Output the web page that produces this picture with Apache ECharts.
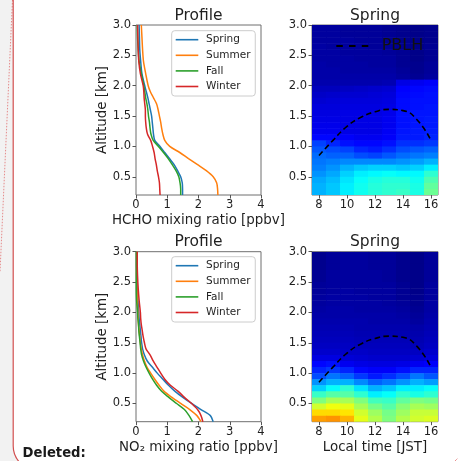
<!DOCTYPE html>
<html><head><meta charset="utf-8">
<script src="https://cdn.jsdelivr.net/npm/echarts@6/dist/echarts.min.js"></script>
<style>html,body{margin:0;padding:0;background:#fff}#c{width:458px;height:461px}</style>
</head><body><div id="c"></div><script>
// ---------- data ----------
const seasons = ['Spring', 'Summer', 'Fall', 'Winter'];
const altLevels = [0.2,0.3,0.4,0.5,0.6,0.7,0.8,0.9,1.0,1.1,1.2,1.3,1.4,1.5,1.6,1.7,1.8,1.9,2.0,2.2,2.4,2.6,2.8,3.0];
const hchoSpring = [1.49,1.49,1.48,1.43,1.33,1.22,1.07,0.92,0.77,0.60,0.56,0.54,0.52,0.50,0.46,0.42,0.38,0.33,0.28,0.19,0.15,0.12,0.11,0.10];
const hchoSummer = [2.62,2.61,2.58,2.47,2.25,1.97,1.68,1.40,1.08,0.92,0.86,0.82,0.79,0.75,0.71,0.66,0.56,0.46,0.39,0.31,0.24,0.21,0.19,0.17];
const hchoFall   = [1.43,1.43,1.41,1.37,1.28,1.16,1.03,0.88,0.72,0.55,0.48,0.45,0.43,0.40,0.38,0.35,0.31,0.28,0.25,0.17,0.10,0.07,0.05,0.04];
const hchoWinter = [0.77,0.76,0.75,0.72,0.68,0.65,0.61,0.58,0.53,0.47,0.37,0.33,0.31,0.30,0.30,0.28,0.26,0.25,0.23,0.14,0.09,0.07,0.06,0.05];
const no2Spring  = [2.47,2.38,2.08,1.78,1.50,1.25,1.04,0.86,0.68,0.52,0.36,0.27,0.21,0.18,0.16,0.14,0.12,0.10,0.09,0.06,0.04,0.03,0.02,0.02];
const no2Summer  = [2.08,1.95,1.72,1.43,1.15,0.90,0.74,0.60,0.47,0.35,0.27,0.21,0.17,0.14,0.12,0.10,0.08,0.07,0.06,0.04,0.03,0.02,0.02,0.02];
const no2Fall    = [1.81,1.70,1.55,1.30,1.05,0.82,0.66,0.53,0.42,0.32,0.24,0.18,0.15,0.13,0.11,0.09,0.08,0.06,0.05,0.02,0.01,0.01,0.01,0.01];
const no2Winter  = [2.14,2.08,1.97,1.78,1.55,1.35,1.10,0.92,0.79,0.67,0.55,0.45,0.32,0.27,0.23,0.20,0.17,0.15,0.14,0.10,0.07,0.05,0.04,0.04];

const hours = [8,9,10,11,12,13,14,15,16];
// bottom edge of each 0.1 km bin, listed top row first
const binBottoms = [2.9,2.8,2.7,2.6,2.5,2.4,2.3,2.2,2.1,2.0,1.9,1.8,1.7,1.6,1.5,1.4,1.3,1.2,1.1,1.0,0.9,0.8,0.7,0.6,0.5,0.4,0.3,0.2];
// normalised (0-1) colour-scale values, rows top->bottom, columns 8..16 h
const hchoRows = [
 [0.03,0.03,0.025,0.025,0.025,0.02,0.015,0.01,0.015],
 [0.03,0.03,0.025,0.025,0.025,0.02,0.015,0.01,0.015],
 [0.03,0.03,0.03,0.025,0.025,0.02,0.015,0.01,0.015],
 [0.035,0.03,0.03,0.03,0.025,0.025,0.02,0.01,0.02],
 [0.035,0.035,0.03,0.03,0.03,0.025,0.02,0.01,0.02],
 [0.035,0.035,0.035,0.03,0.03,0.03,0.02,0.01,0.02],
 [0.04,0.035,0.035,0.035,0.03,0.03,0.02,0.015,0.025],
 [0.04,0.04,0.035,0.035,0.035,0.035,0.025,0.015,0.025],
 [0.04,0.04,0.04,0.04,0.04,0.04,0.03,0.02,0.03],
 [0.045,0.045,0.045,0.045,0.045,0.05,0.10,0.11,0.12],
 [0.06,0.06,0.065,0.07,0.075,0.08,0.125,0.13,0.135],
 [0.07,0.075,0.08,0.08,0.085,0.09,0.13,0.135,0.14],
 [0.08,0.085,0.09,0.09,0.09,0.095,0.135,0.14,0.14],
 [0.09,0.09,0.095,0.095,0.095,0.10,0.135,0.14,0.145],
 [0.095,0.095,0.10,0.10,0.10,0.105,0.14,0.145,0.145],
 [0.10,0.10,0.10,0.10,0.10,0.11,0.14,0.145,0.15],
 [0.105,0.105,0.10,0.10,0.10,0.11,0.14,0.145,0.15],
 [0.11,0.11,0.10,0.10,0.10,0.115,0.145,0.15,0.155],
 [0.13,0.13,0.12,0.11,0.11,0.12,0.15,0.15,0.16],
 [0.19,0.16,0.14,0.13,0.13,0.14,0.17,0.17,0.18],
 [0.21,0.20,0.19,0.16,0.15,0.17,0.20,0.21,0.22],
 [0.23,0.22,0.22,0.20,0.19,0.21,0.23,0.24,0.25],
 [0.24,0.25,0.26,0.26,0.26,0.26,0.27,0.28,0.30],
 [0.25,0.27,0.30,0.32,0.33,0.33,0.32,0.33,0.36],
 [0.27,0.29,0.33,0.36,0.37,0.38,0.37,0.37,0.42],
 [0.29,0.31,0.35,0.38,0.40,0.41,0.41,0.39,0.45],
 [0.30,0.32,0.36,0.39,0.41,0.42,0.42,0.40,0.47],
 [0.30,0.32,0.36,0.39,0.41,0.42,0.43,0.40,0.48]
];
const no2Rows = [
 [0.015,0.025,0.03,0.03,0.025,0.025,0.015,0.01,0.025],
 [0.015,0.025,0.03,0.03,0.025,0.025,0.015,0.01,0.025],
 [0.015,0.025,0.03,0.03,0.025,0.025,0.015,0.01,0.025],
 [0.02,0.03,0.03,0.03,0.03,0.025,0.015,0.01,0.025],
 [0.02,0.03,0.03,0.03,0.03,0.025,0.015,0.01,0.025],
 [0.025,0.03,0.03,0.03,0.03,0.03,0.02,0.01,0.03],
 [0.025,0.03,0.035,0.03,0.03,0.03,0.02,0.01,0.03],
 [0.03,0.035,0.035,0.035,0.03,0.03,0.02,0.015,0.03],
 [0.03,0.035,0.035,0.035,0.035,0.03,0.025,0.015,0.035],
 [0.035,0.04,0.04,0.035,0.035,0.035,0.03,0.02,0.035],
 [0.04,0.04,0.04,0.04,0.04,0.04,0.035,0.025,0.04],
 [0.045,0.045,0.045,0.045,0.04,0.04,0.04,0.03,0.045],
 [0.05,0.05,0.05,0.045,0.045,0.045,0.045,0.04,0.05],
 [0.055,0.055,0.055,0.05,0.05,0.05,0.05,0.045,0.055],
 [0.06,0.06,0.06,0.055,0.055,0.055,0.055,0.05,0.06],
 [0.065,0.065,0.065,0.06,0.06,0.06,0.06,0.055,0.065],
 [0.075,0.075,0.07,0.07,0.065,0.065,0.065,0.065,0.075],
 [0.095,0.095,0.085,0.08,0.075,0.075,0.075,0.08,0.09],
 [0.13,0.14,0.11,0.10,0.095,0.095,0.10,0.11,0.12],
 [0.16,0.18,0.16,0.13,0.12,0.12,0.14,0.16,0.16],
 [0.20,0.24,0.22,0.18,0.15,0.17,0.20,0.24,0.21],
 [0.27,0.30,0.30,0.26,0.22,0.24,0.27,0.30,0.28],
 [0.33,0.38,0.42,0.35,0.30,0.32,0.36,0.36,0.38],
 [0.43,0.46,0.46,0.42,0.36,0.38,0.42,0.40,0.42],
 [0.50,0.54,0.54,0.50,0.44,0.43,0.47,0.50,0.49],
 [0.58,0.61,0.60,0.54,0.49,0.46,0.51,0.54,0.53],
 [0.66,0.66,0.65,0.58,0.53,0.49,0.53,0.57,0.57],
 [0.72,0.73,0.70,0.60,0.55,0.50,0.55,0.58,0.59]
];
const pblhHours = [8,9,10,11,12,13,14,15,16];
const pblh = [0.85,1.10,1.33,1.48,1.57,1.61,1.59,1.44,1.10];

const altTicks = [0.5,1.0,1.5,2.0,2.5,3.0];
const hourTicks = [8,10,12,14,16];

// ---------- styling ----------
const FONT = 'DejaVu Sans';
const TXT = '#1f1f1f';
const seasonColors = ['#1f77b4','#ff7f0e','#2ca02c','#d62728'];
const jet = ['#00007f','#0000ff','#007fff','#00ffff','#7fff7f','#ffff00','#ff7f00','#ff0000','#7f0000'];
const binH = 0.1;

function cells(rows) {
  const out = [];
  rows.forEach((row, r) => row.forEach((v, c) => out.push([hours[c], binBottoms[r], v])));
  return out;
}
function pairs(vals) { return vals.map((v, i) => [v, altLevels[i]]); }

const gridBox = [
  {left:136, top:25, width:125, height:170},
  {left:312, top:25, width:126, height:170},
  {left:136, top:251.7, width:125, height:170},
  {left:312, top:251.7, width:126, height:170}
].map(g => Object.assign({show:true, borderColor:'#6f6f6f', borderWidth:1, backgroundColor:'transparent', containLabel:false}, g));

const tickStyle = {show:true, length:3.5, lineStyle:{color:'#555', width:1}};
const labelStyle = {fontSize:11.5, color:TXT, fontFamily:FONT};
const nameStyle = {fontSize:13.4, color:TXT, fontFamily:FONT};

function xProfile(gi, name) {
  return {gridIndex:gi, type:'value', min:0, max:4, interval:1,
    axisLine:{show:false}, axisTick:tickStyle, splitLine:{show:false},
    axisLabel:Object.assign({margin:4}, labelStyle),
    name:name, nameLocation:'middle', nameGap:19.5, nameTextStyle:nameStyle};
}
function xHeat(gi, name) {
  return {gridIndex:gi, type:'value', min:7.5, max:16.5,
    axisLine:{show:false}, splitLine:{show:false},
    axisTick:Object.assign({customValues:hourTicks}, tickStyle),
    axisLabel:Object.assign({margin:4, customValues:hourTicks}, labelStyle),
    name:name, nameLocation:'middle', nameGap:19.5, nameTextStyle:nameStyle};
}
function yAlt(gi, name) {
  return {gridIndex:gi, type:'value', min:0.2, max:3.0,
    axisLine:{show:false}, splitLine:{show:false},
    axisTick:Object.assign({customValues:altTicks}, tickStyle),
    axisLabel:Object.assign({margin:5, customValues:altTicks, formatter:v => v.toFixed(1)}, labelStyle),
    name:name, nameLocation:'middle', nameGap:26.5, nameTextStyle:nameStyle};
}

function renderCell(params, api) {
  const h = api.value(0), a = api.value(1);
  const p0 = api.coord([h - 0.5, a + binH]);
  const p1 = api.coord([h + 0.5, a]);
  return {type:'rect', shape:{x:p0[0], y:p0[1], width:p1[0]-p0[0]+0.6, height:p1[1]-p0[1]+0.6},
    style:{fill:api.visual('color')}};
}

const series = [];
[[hchoSpring,hchoSummer,hchoFall,hchoWinter],[no2Spring,no2Summer,no2Fall,no2Winter]].forEach((set, k) => {
  set.forEach((vals, i) => series.push({
    type:'line', name:seasons[i], xAxisIndex:k*2, yAxisIndex:k*2,
    data:pairs(vals), showSymbol:false, symbol:'none', smooth:0.3,
    lineStyle:{color:seasonColors[i], width:1.5}, itemStyle:{color:seasonColors[i]}, z:3
  }));
});
[hchoRows, no2Rows].forEach((rows, k) => {
  series.push({type:'custom', name:'field', xAxisIndex:k*2+1, yAxisIndex:k*2+1,
    data:cells(rows), renderItem:renderCell, clip:true, z:1, encode:{x:0, y:1}});
  series.push({type:'line', name:'PBLH', xAxisIndex:k*2+1, yAxisIndex:k*2+1,
    data:pblhHours.map((h, i) => [h, pblh[i]]), showSymbol:false, symbol:'none', smooth:0.5,
    lineStyle:{color:'#000', width:1.6, type:[5.5,3.5]}, itemStyle:{color:'#000'}, z:4});
});

function seasonLegend(top) {
  return {orient:'vertical', left:171.7, top:top, padding:[3,4.7,3.5,4],
    itemWidth:22.6, itemHeight:1.6, itemGap:3.6, icon:'rect',
    backgroundColor:'rgba(255,255,255,0.85)', borderColor:'#cccccc', borderWidth:1, borderRadius:3,
    data:seasons, selectedMode:false,
    textStyle:{fontSize:10.5, lineHeight:12, color:TXT, fontFamily:FONT, padding:[0,0,0,2.7]}};
}

const chart = echarts.init(document.getElementById('c'), null, {renderer:'canvas'});
chart.setOption({
  animation:false,
  textStyle:{fontFamily:FONT},
  title:[
    {text:'Profile', left:198.5, top:7.5, textAlign:'center', padding:0, textStyle:{fontSize:15.5, fontWeight:'normal', color:TXT, fontFamily:FONT}},
    {text:'Spring', left:375, top:7.5, textAlign:'center', padding:0, textStyle:{fontSize:15.5, fontWeight:'normal', color:TXT, fontFamily:FONT}},
    {text:'Profile', left:198.5, top:234.2, textAlign:'center', padding:0, textStyle:{fontSize:15.5, fontWeight:'normal', color:TXT, fontFamily:FONT}},
    {text:'Spring', left:375, top:234.2, textAlign:'center', padding:0, textStyle:{fontSize:15.5, fontWeight:'normal', color:TXT, fontFamily:FONT}}
  ],
  grid:gridBox,
  xAxis:[xProfile(0,'HCHO mixing ratio [ppbv]'), xHeat(1,''), xProfile(2,'NO\u2082 mixing ratio [ppbv]'), xHeat(3,'Local time [JST]')],
  yAxis:[yAlt(0,'Altitude [km]'), yAlt(1,''), yAlt(2,'Altitude [km]'), yAlt(3,'')],
  visualMap:{type:'continuous', show:false, min:0, max:1, dimension:2, seriesIndex:[8,10], inRange:{color:jet}},
  legend:[
    seasonLegend(30.7),
    seasonLegend(256.7),
    {left:336.3, top:38, padding:0, itemWidth:32, itemHeight:2, selectedMode:false,
     data:[{name:'PBLH', icon:'path://M0,0h6.5v2h-6.5zM12.75,0h6.5v2h-6.5zM25.5,0h6.5v2h-6.5z'}],
     textStyle:{fontSize:16, color:'#111', fontFamily:FONT, padding:[0,0,0,8.4]}}
  ],
  graphic:[
    {type:'rect', shape:{x:0, y:0, width:13, height:461}, style:{fill:'#f2f2f2'}, silent:true},
    {type:'polygon', shape:{points:[[13,446],[13.5,450.5],[14.7,454.5],[16.3,458],[18.4,461.5],[13,461.5]]}, style:{fill:'#f2f2f2'}, silent:true},
    {type:'line', shape:{x1:12.5, y1:0, x2:0, y2:272}, style:{stroke:'#e58a8a', lineWidth:1, lineDash:[1.5,1.5]}, silent:true},
    {type:'line', shape:{x1:13.2, y1:0, x2:13.2, y2:446}, style:{stroke:'#d24f4f', lineWidth:1.2}, silent:true},
    {type:'arc', shape:{cx:37.2, cy:446, r:24, startAngle:2.45, endAngle:Math.PI, clockwise:true}, style:{stroke:'#d24f4f', lineWidth:1.2, fill:null}, silent:true},
    {type:'line', shape:{x1:455, y1:461, x2:458, y2:458}, style:{stroke:'#e06060', lineWidth:1, lineDash:[1,1]}, silent:true},
    {type:'text', x:22.5, y:453.5, style:{text:'Deleted:', font:'bold 13.2px "DejaVu Sans"', fill:'#1a1a1a', verticalAlign:'middle'}, silent:true}
  ],
  series:series
});
</script></body></html>
